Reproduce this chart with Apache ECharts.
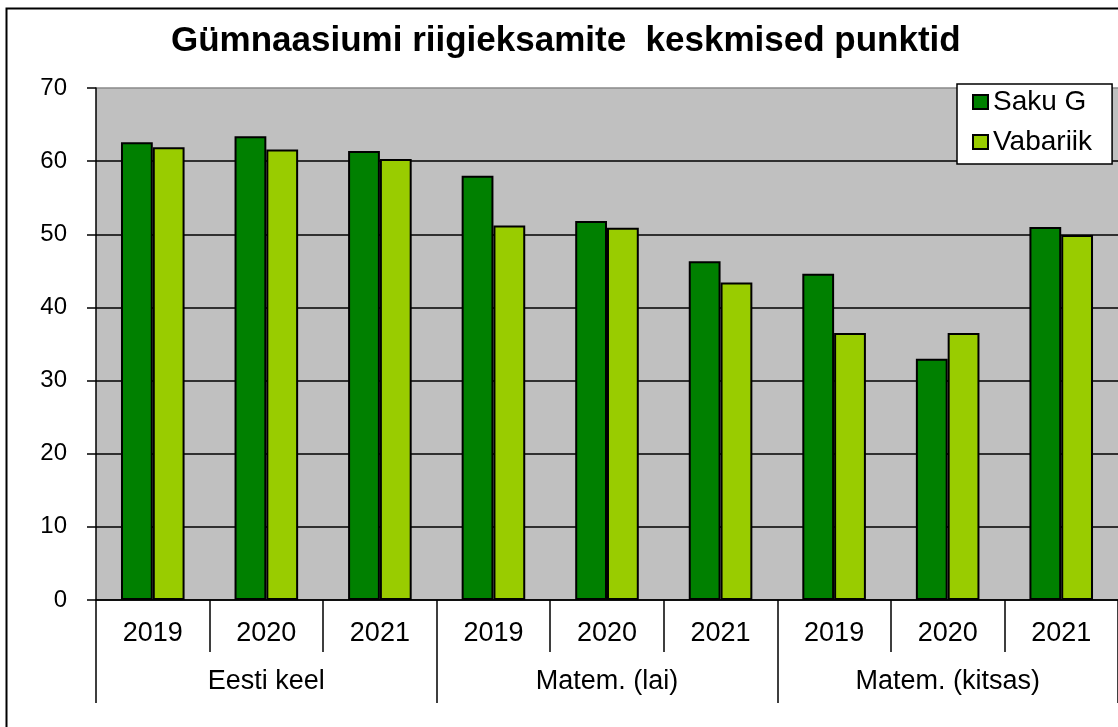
<!DOCTYPE html>
<html>
<head>
<meta charset="utf-8">
<script src="https://cdn.jsdelivr.net/npm/echarts@6/dist/echarts.min.js"></script>
<style>html,body{margin:0;padding:0;background:#fff;}#c{width:1118px;height:727px;}</style>
</head>
<body>
<div id="c"></div>
<script>
const titleText = 'Gümnaasiumi riigieksamite  keskmised punktid';
const years = ['2019','2020','2021','2019','2020','2021','2019','2020','2021'];
const groups = ['Eesti keel','Matem. (lai)','Matem. (kitsas)'];
const seriesNames = ['Saku G','Vabariik'];
const sakuG = [62.6, 63.4, 61.4, 58.0, 51.8, 46.3, 44.6, 33.0, 51.0];
const vabariik = [61.9, 61.6, 60.3, 51.2, 50.9, 43.4, 36.5, 36.5, 49.9];
const yTicks = {min: 0, max: 70, interval: 10};

const FONT = '"Liberation Sans", Arial, sans-serif';
const chart = echarts.init(document.getElementById('c'));
chart.setOption({
  backgroundColor: '#ffffff',
  animation: false,
  textStyle: {fontFamily: FONT, color: '#000'},
  graphic: [{
    type: 'rect', left: 4, top: 6, shape: {width: 1200, height: 800},
    style: {fill: 'none', stroke: '#000', lineWidth: 2}, z: 100
  }],
  title: {
    text: titleText, left: 171, top: 24, padding: 0,
    textStyle: {fontFamily: FONT, fontSize: 35, fontWeight: 'bold', color: '#000'}
  },
  legend: {
    data: seriesNames, orient: 'vertical', left: 957, top: 84, icon: 'rect',
    backgroundColor: '#fff', borderColor: '#000', borderWidth: 1.5,
    padding: [4, 20, 8, 15], itemWidth: 15, itemHeight: 14, itemGap: 12,
    textStyle: {fontFamily: FONT, fontSize: 28, color: '#000'}, z: 10
  },
  grid: {left: 96, right: -2, top: 88, bottom: 127, show: true, backgroundColor: '#c0c0c0', borderWidth: 0},
  xAxis: [{
    type: 'category', data: years, position: 'bottom',
    axisLine: {show: true, lineStyle: {color: '#000', width: 1.5}},
    axisTick: {show: true, length: 52, interval: 0, alignWithLabel: false, lineStyle: {color: '#000', width: 1.5}},
    axisLabel: {interval: 0, margin: 20, fontSize: 27, color: '#000', fontFamily: FONT},
    splitLine: {show: false}
  }, {
    type: 'category', data: groups, position: 'bottom',
    axisLine: {show: false},
    axisTick: {show: true, length: 103, interval: 0, alignWithLabel: false, lineStyle: {color: '#000', width: 1.5}},
    axisLabel: {interval: 0, margin: 68, fontSize: 27, color: '#000', fontFamily: FONT},
    splitLine: {show: false}
  }],
  yAxis: {
    type: 'value', min: yTicks.min, max: yTicks.max, interval: yTicks.interval,
    axisLine: {show: true, lineStyle: {color: '#000', width: 1.5}},
    axisTick: {show: true, length: 9, lineStyle: {color: '#000', width: 1.5}},
    axisLabel: {margin: 29, fontSize: 24, color: '#000', fontFamily: FONT},
    splitLine: {show: true, lineStyle: {color: ['#000','#000','#000','#000','#000','#000','#000','#8a8a8a'], width: 1.5}}
  },
  series: [{
    name: seriesNames[0], type: 'bar', data: sakuG, xAxisIndex: 0,
    barGap: '0%', barCategoryGap: '44%',
    itemStyle: {color: '#008000', borderColor: '#000', borderWidth: 2}
  }, {
    name: seriesNames[1], type: 'bar', data: vabariik, xAxisIndex: 0,
    barGap: '0%', barCategoryGap: '44%',
    itemStyle: {color: '#99cc00', borderColor: '#000', borderWidth: 2}
  }]
});
</script>
</body>
</html>
